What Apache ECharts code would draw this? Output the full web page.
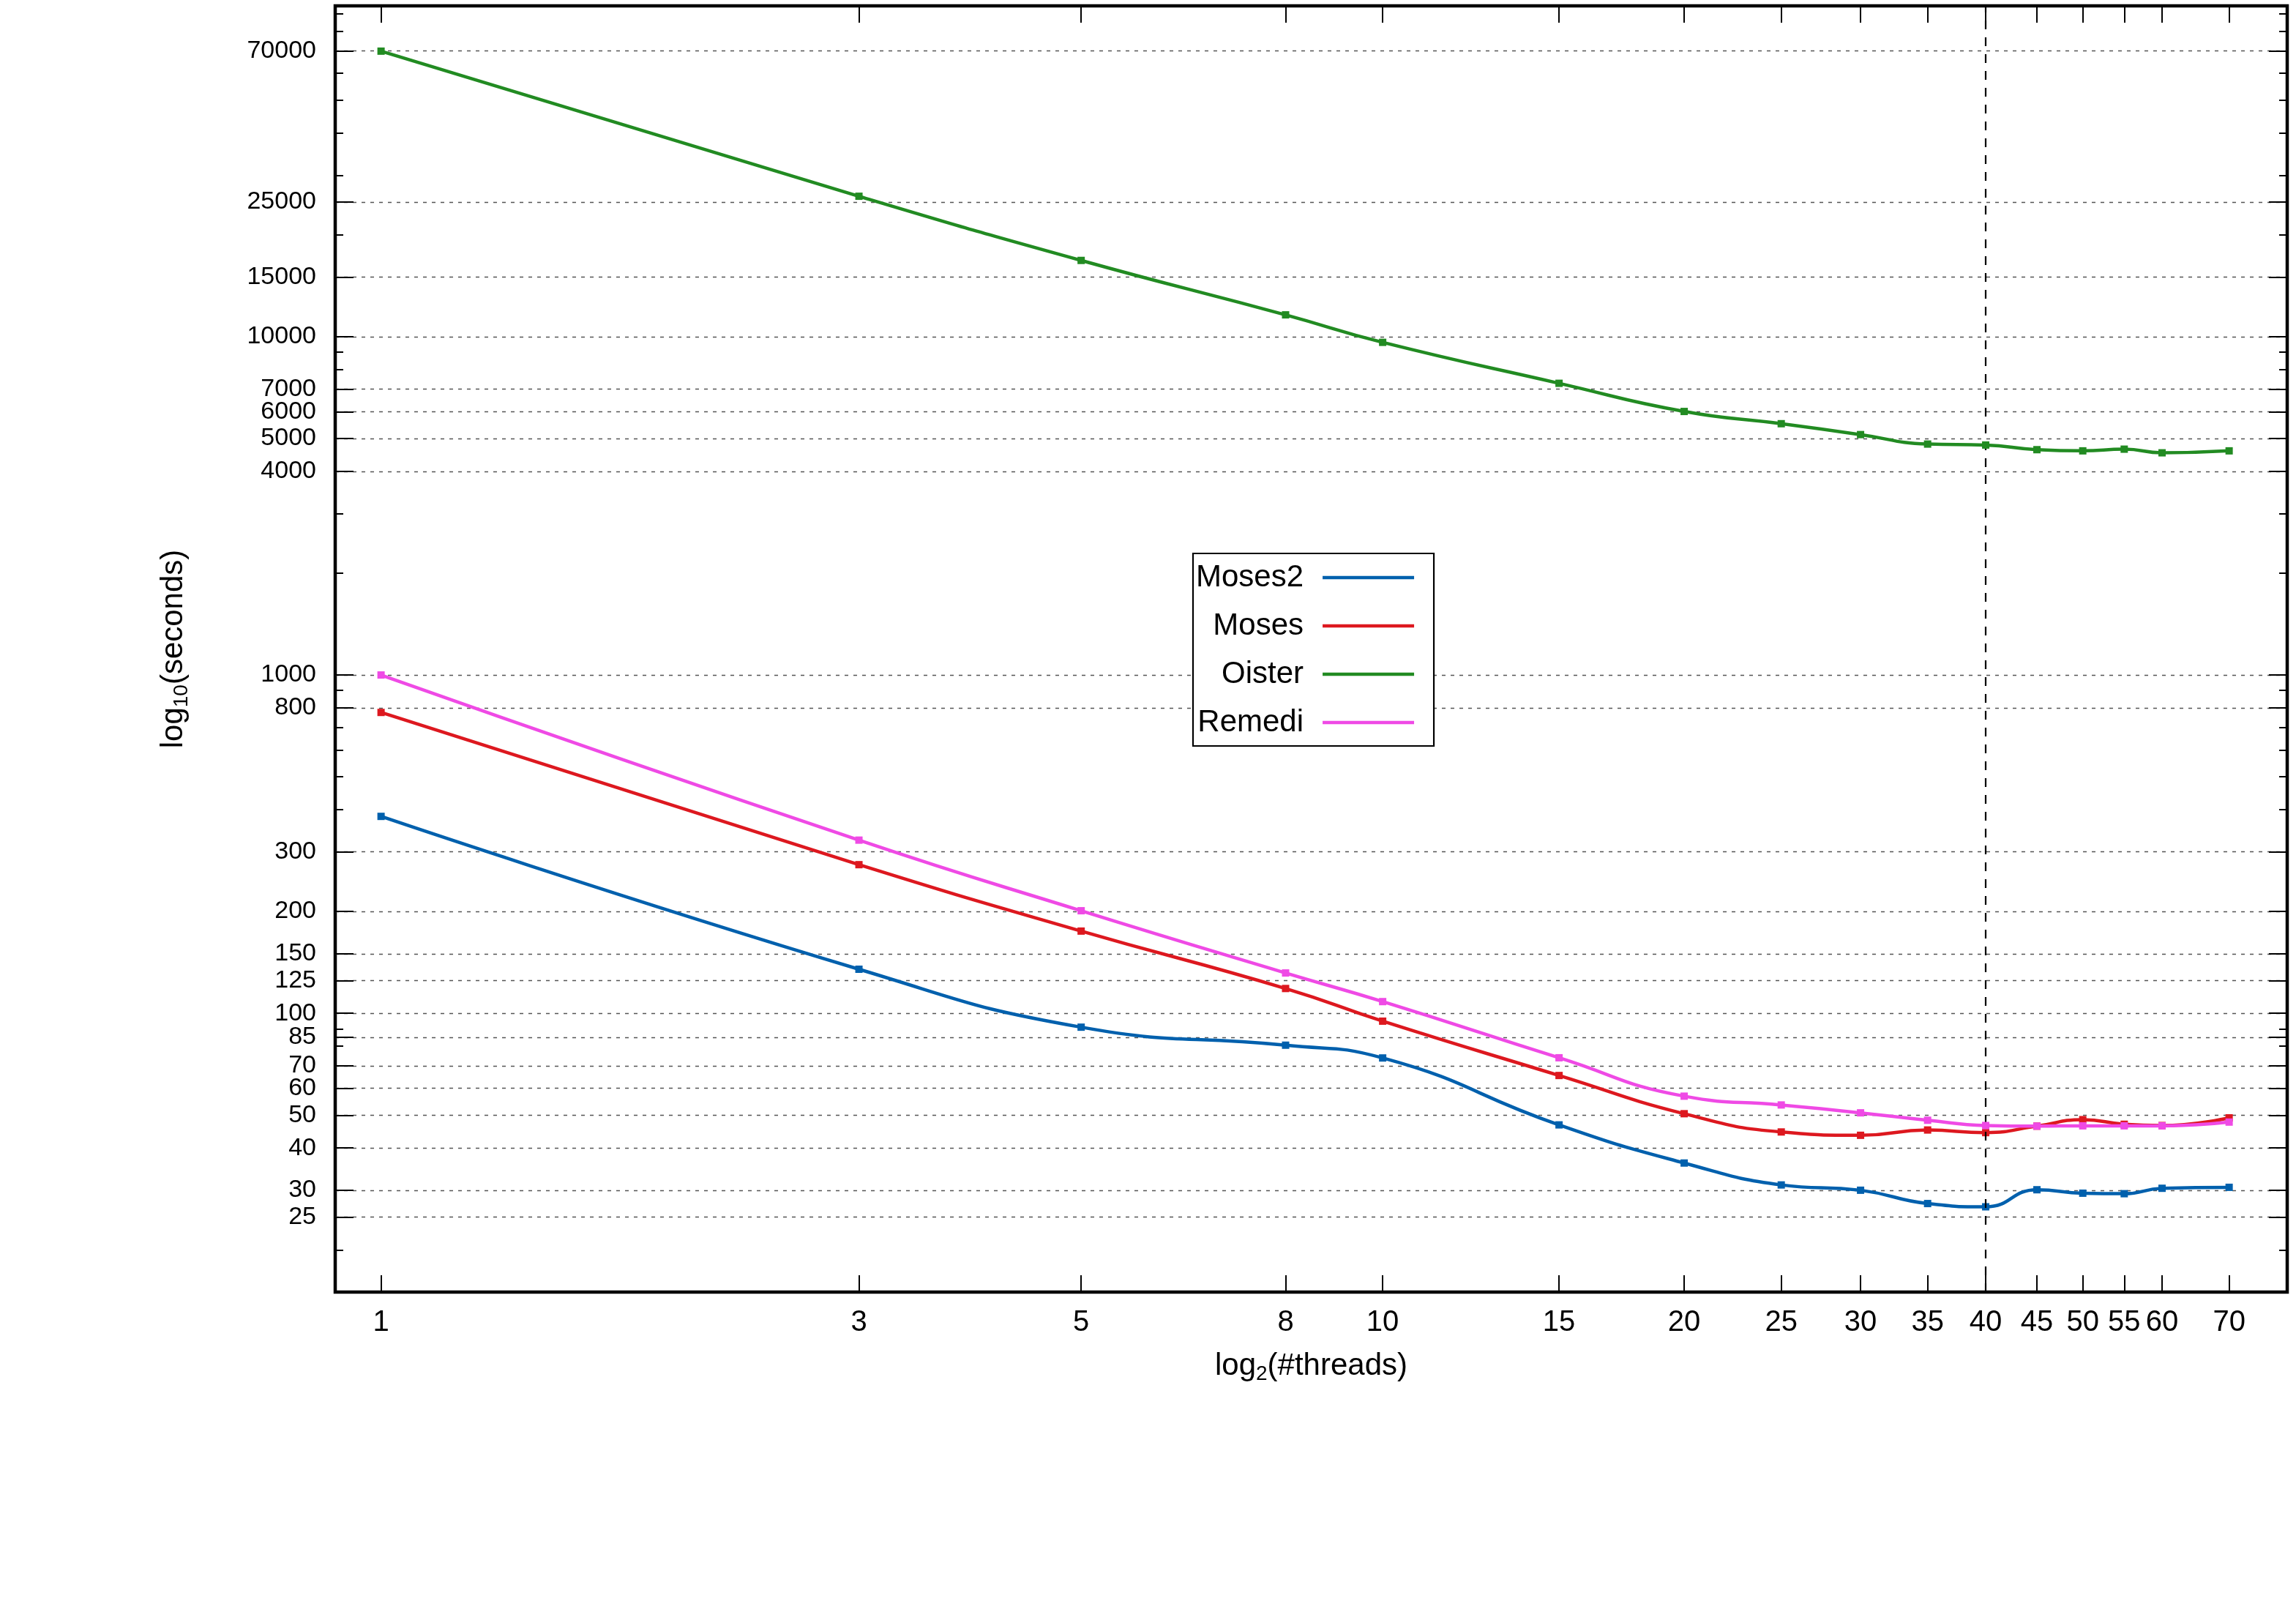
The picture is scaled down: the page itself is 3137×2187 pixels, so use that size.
<!DOCTYPE html>
<html><head><meta charset="utf-8">
<script src="https://cdn.jsdelivr.net/npm/echarts@6/dist/echarts.min.js"></script>
<style>html,body{margin:0;padding:0;background:#fff}#c{width:3137px;height:2187px}</style>
</head><body><div id="c"></div>
<script>
const threads = [1, 3, 5, 8, 10, 15, 20, 25, 30, 35, 40, 45, 50, 55, 60, 70];
const moses2 = [382, 135, 91, 80.5, 73.8, 46.8, 36.1, 31.1, 30.0, 27.4, 26.8, 30.1, 29.4, 29.3, 30.4, 30.6];
const moses  = [775, 275, 175, 118.4, 94.8, 65.5, 50.5, 44.6, 43.6, 45.2, 44.4, 46.4, 48.5, 47.0, 46.6, 49.1];
const oister = [69800, 26000, 16800, 11600, 9620, 7280, 6010, 5530, 5135, 4814, 4783, 4634, 4597, 4650, 4536, 4597];
const remedi = [1000, 325, 201, 131.6, 108.3, 73.9, 56.9, 53.6, 50.8, 48.3, 46.6, 46.4, 46.5, 46.5, 46.5, 47.7];
const seriesNames = ['Moses2', 'Moses', 'Oister', 'Remedi'];
const seriesColors = ['#0060ad', '#dd181f', '#228b22', '#ef4ae5'];
const xTicks = [1, 3, 5, 8, 10, 15, 20, 25, 30, 35, 40, 45, 50, 55, 60, 70];
const yTicks = [25, 30, 40, 50, 60, 70, 85, 100, 125, 150, 200, 300, 800, 1000, 4000, 5000, 6000, 7000, 10000, 15000, 25000, 70000];
const yMinorTicks = [20, 30, 40, 50, 60, 70, 80, 90, 200, 300, 400, 500, 600, 700, 800, 900,
  2000, 3000, 4000, 5000, 6000, 7000, 8000, 9000, 20000, 30000, 40000, 50000, 60000, 70000, 80000, 90000];
const markerX = [40];

const FONT = '"Liberation Sans", Arial, Helvetica, sans-serif';
const Y_MIN = 15, Y_MAX = 95000, X_MIN = 0.9, X_MAX = 80;

const seriesValues = [moses2, moses, oister, remedi];

const chart = echarts.init(document.getElementById('c'), null, {renderer: 'canvas'});

const titleStyle = {fontFamily: FONT, color: '#000', fontSize: 42,
  rich: {a: {fontSize: 42, fontFamily: FONT, lineHeight: 50, color: '#000'},
         b: {fontSize: 28, fontFamily: FONT, verticalAlign: 'bottom', lineHeight: 28, color: '#000'}}};

function yAx(pos, ticks, len, main) {
  const a = {
    type: 'log', min: Y_MIN, max: Y_MAX, position: pos,
    axisLine: {show: false},
    axisTick: {show: true, inside: true, length: len, customValues: ticks, lineStyle: {color: '#000', width: 2}},
    axisLabel: {show: false},
    splitLine: {show: false},
    minorTick: {show: false}, minorSplitLine: {show: false}
  };
  if (main) {
    a.axisLabel = {show: true, customValues: yTicks, formatter: v => String(v), fontSize: 34,
      fontFamily: FONT, color: '#000', margin: 26};
    a.splitLine = {show: true, lineStyle: {color: '#555', type: [5, 7], width: 1.4}};
    a.name = '{a|log}{b|10}{a|(seconds)}';
    a.nameLocation = 'middle';
    a.nameRotate = 90;
    a.nameGap = 196;
    a.nameTextStyle = titleStyle;
  }
  return a;
}
function xAx(pos, main) {
  const a = {
    type: 'log', logBase: 2, min: X_MIN, max: X_MAX, position: pos,
    axisLine: {show: false},
    axisTick: {show: true, inside: true, length: 23, customValues: xTicks, lineStyle: {color: '#000', width: 2}},
    axisLabel: {show: false},
    splitLine: {show: false},
    minorTick: {show: false}, minorSplitLine: {show: false}
  };
  if (main) {
    a.axisLabel = {show: true, customValues: xTicks, formatter: v => String(v), fontSize: 40,
      fontFamily: FONT, color: '#000', margin: 22};
    a.name = '{a|log}{b|2}{a|(#threads)}';
    a.nameLocation = 'middle';
    a.nameGap = 76;
    a.nameTextStyle = titleStyle;
  }
  return a;
}

const series = seriesNames.map((name, i) => ({
  name: name, type: 'line', xAxisIndex: 0, yAxisIndex: 0,
  data: threads.map((t, j) => [t, seriesValues[i][j]]),
  smooth: 0.5, symbol: 'rect', symbolSize: 10, showSymbol: true,
  lineStyle: {width: 4.5, color: seriesColors[i]},
  itemStyle: {color: seriesColors[i]},
  emphasis: {disabled: true},
  z: 3 + i
}));
series[0].markLine = {
  silent: true, symbol: ['none', 'none'], animation: false,
  label: {show: false},
  lineStyle: {color: '#000', type: [12, 11], width: 2.2},
  data: markerX.map(v => ({xAxis: v}))
};

chart.setOption({
  animation: false,
  backgroundColor: '#fff',
  textStyle: {fontFamily: FONT},
  grid: {left: 458, top: 8, right: 12, bottom: 422, show: true, borderColor: '#000', borderWidth: 4.5,
    backgroundColor: 'transparent', containLabel: false},
  xAxis: [xAx('bottom', true), xAx('top', false)],
  yAxis: [yAx('left', yTicks, 25, true), yAx('left', yMinorTicks, 11, false),
          yAx('right', yTicks, 25, false), yAx('right', yMinorTicks, 11, false)],
  legend: {
    data: seriesNames.map(n => ({name: n, icon: 'rect'})),
    orient: 'vertical', align: 'right', left: 1630, top: 756,
    itemWidth: 125, itemHeight: 4.5, itemGap: 22,
    padding: [11, 27, 10, 4],
    backgroundColor: '#fff', borderColor: '#000', borderWidth: 2.2, borderRadius: 0,
    selectedMode: false,
    textStyle: {fontSize: 42, fontFamily: FONT, color: '#000', lineHeight: 44, padding: [0, 21, 0, 0]}
  },
  series: series
});
</script></body></html>
